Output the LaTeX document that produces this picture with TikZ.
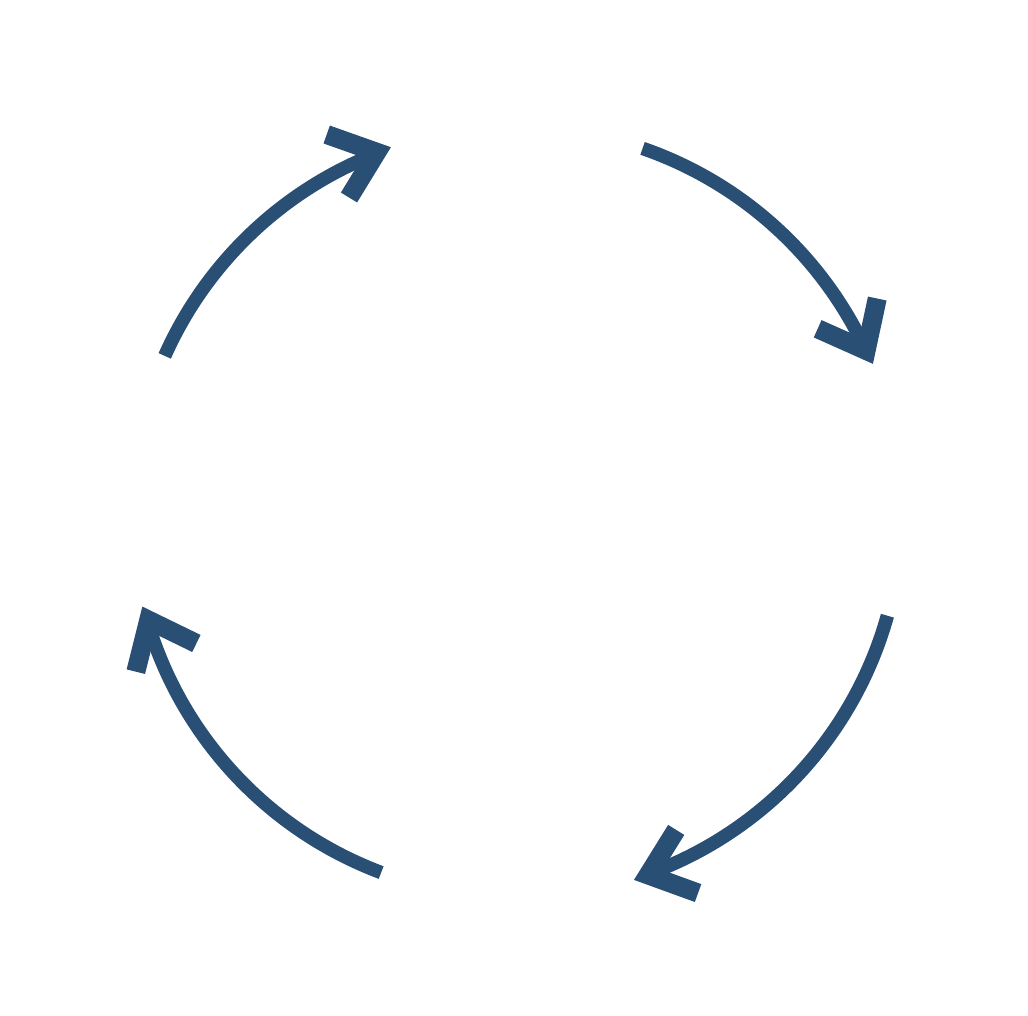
\documentclass[tikz,border=0pt]{standalone}
\definecolor{arrowblue}{RGB}{41,79,117}
\begin{document}
\begin{tikzpicture}[x=1pt,y=1pt,
  shaft/.style={draw=arrowblue, line width=13.5pt, line cap=butt},
  chevron/.style={draw=arrowblue, line width=19pt, line cap=butt, line join=miter}]
\useasboundingbox (-516.6,-503.8) rectangle (511.4,512.2);
\foreach \s/\t/\rot in {156.05/109.0/19.5, 70.9/22.6/-63.1, -15.6/-72.3/-160.9, -110.6/-165.85/115}{
  \pgfmathsetmacro\e{\t+2.24}
  \draw[shaft] (\s:385) arc[start angle=\s, end angle=\e, radius=385];
  \begin{scope}[shift={(\t:386)}, rotate=\rot]
    \draw[chevron] (-56.3,33.4) -- (-15.1,0) -- (-56.3,-33.4);
  \end{scope}
}
\end{tikzpicture}
\end{document}
